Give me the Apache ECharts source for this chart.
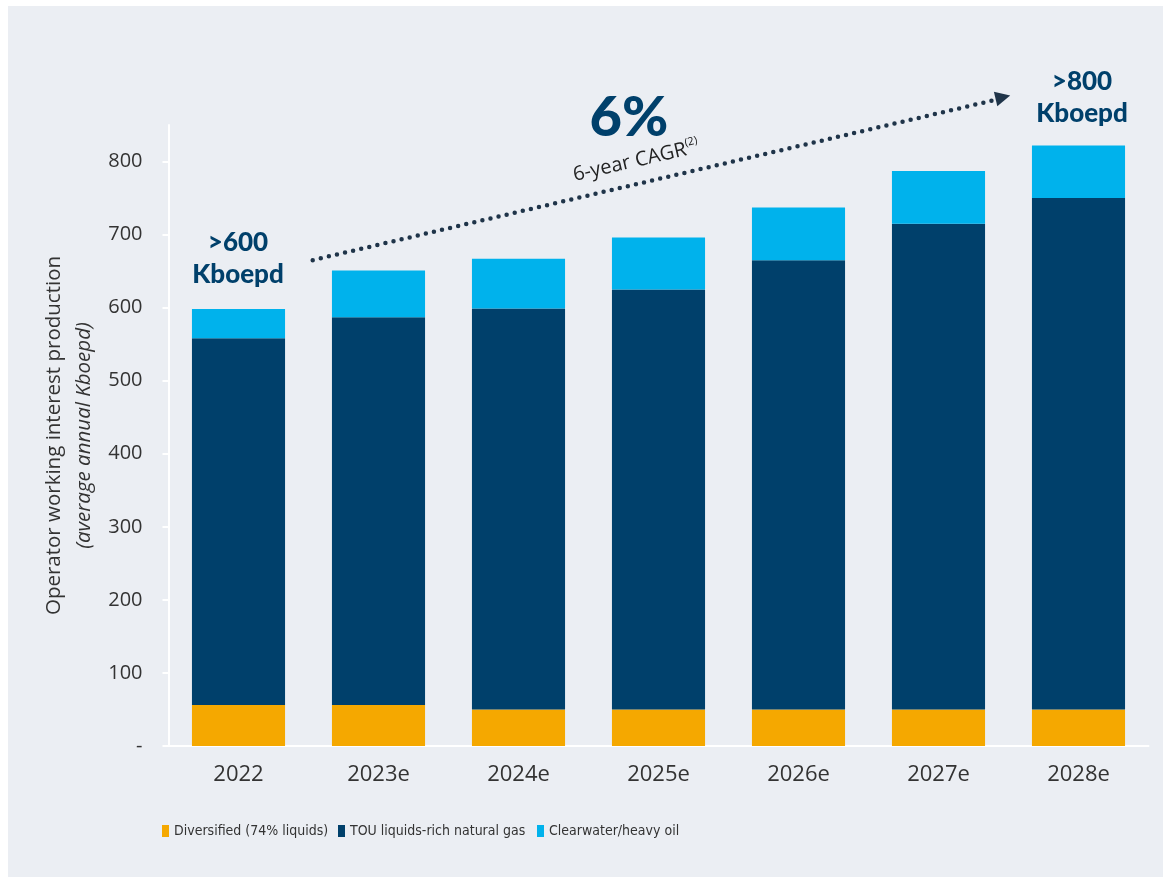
<!DOCTYPE html>
<html>
<head>
<meta charset="utf-8">
<script src="https://cdn.jsdelivr.net/npm/echarts@6/dist/echarts.min.js"></script>
<style>
html,body{margin:0;padding:0;background:#ffffff;width:1163px;height:877px;overflow:hidden;}
#main{position:absolute;left:8px;top:6px;width:1155px;height:871px;}
</style>
</head>
<body>
<div id="main"></div>
<script>
// ---- data ----
const categories = ['2022', '2023e', '2024e', '2025e', '2026e', '2027e', '2028e'];
const seriesNames = ['Diversified (74% liquids)', 'TOU liquids-rich natural gas', 'Clearwater/heavy oil'];
const diversified = [56, 56, 50, 50, 50, 50, 50];
const touGas = [502, 531, 549, 575, 615, 665, 700];
const clearwater = [40, 64, 68, 71, 72, 72, 72];
const yTicks = [0, 100, 200, 300, 400, 500, 600, 700, 800];
// growth arrow, in (category-units, Kboepd) space
const arrowStart = [1.03, 665];
const arrowEnd = [5.92, 885];
const arrowTip = [5.96, 888];

const navy = '#00406B';
const arrowColor = '#1F3449';
const chart = echarts.init(document.getElementById('main'));
const baseFont = '"Open Sans", Lato, sans-serif';
const legendFont = '"DejaVu Sans Condensed", "Liberation Sans Narrow", Lato, sans-serif';

function legendAt(left, name) {
  return {
    left: left, top: 818, padding: 0,
    icon: 'rect', itemWidth: 7, itemHeight: 12,
    textStyle: { fontFamily: legendFont, fontSize: 14, color: '#333' },
    data: [name]
  };
}

const option = {
  backgroundColor: '#EBEEF3',
  animation: false,
  grid: { left: 160.5, right: 14.5, top: 119, bottom: 131 },
  legend: [legendAt(154, seriesNames[0]), legendAt(330, seriesNames[1]), legendAt(529, seriesNames[2])],
  xAxis: [{
    type: 'category', data: categories,
    axisLine: { show: true, lineStyle: { color: '#ffffff', width: 2 } },
    axisTick: { show: false },
    axisLabel: { fontFamily: baseFont, fontSize: 22, color: '#333', margin: 18 }
  }, {
    type: 'value', min: 0, max: 7, show: false
  }],
  yAxis: [{
    type: 'value', min: 0, max: 850,
    axisLine: { show: true, lineStyle: { color: '#ffffff', width: 2 } },
    axisTick: { show: true, length: 6, lineStyle: { color: '#ffffff', width: 2 }, customValues: yTicks },
    axisLabel: { fontFamily: baseFont, fontSize: 20, color: '#333', margin: 26, customValues: yTicks,
      formatter: v => v === 0 ? '-' : String(v) },
    splitLine: { show: false },
    name: '{a|Operator working interest production}\n{b|(average annual Kboepd)}',
    nameLocation: 'middle', nameRotate: 90, nameGap: 69,
    nameTextStyle: {
      rich: {
        a: { fontFamily: baseFont, fontSize: 20.5, color: '#333', lineHeight: 30 },
        b: { fontFamily: baseFont, fontSize: 20.5, fontStyle: 'italic', color: '#333', lineHeight: 30 }
      }
    }
  }],
  series: [
    { name: seriesNames[0], type: 'bar', stack: 'p', data: diversified, barWidth: '66.5%', itemStyle: { color: '#F5A800' } },
    { name: seriesNames[1], type: 'bar', stack: 'p', data: touGas, itemStyle: { color: navy } },
    { name: seriesNames[2], type: 'bar', stack: 'p', data: clearwater, itemStyle: { color: '#00B2EC' } },
    {
      id: 'arrowLine', type: 'line', xAxisIndex: 1, yAxisIndex: 0, data: [arrowStart, arrowEnd],
      clip: false, silent: true, showSymbol: false, symbol: 'none',
      lineStyle: { color: arrowColor, width: 4.5, type: [0, 8.3], cap: 'round', opacity: 1 }
    },
    {
      id: 'arrowHead', type: 'scatter', xAxisIndex: 1, yAxisIndex: 0, data: [arrowTip],
      clip: false, silent: true, symbol: 'triangle', symbolSize: [15, 15], symbolRotate: -76,
      itemStyle: { color: arrowColor, opacity: 1 }
    }
  ],
  graphic: [
    { type: 'text', x: 230, y: 253, style: { text: '>600\nKboepd', align: 'center', verticalAlign: 'middle',
        font: '900 26px Lato, sans-serif', fill: navy, lineHeight: 32 } },
    { type: 'text', x: 1074, y: 92, style: { text: '>800\nKboepd', align: 'center', verticalAlign: 'middle',
        font: '900 26px Lato, sans-serif', fill: navy, lineHeight: 32 } },
    { type: 'text', x: 621, y: 112, style: { text: '6%', align: 'center', verticalAlign: 'middle',
        font: '900 56px Lato, sans-serif', fill: navy } },
    { type: 'text', x: 628, y: 155, rotation: 13 * Math.PI / 180, style: {
        text: '{a|6-year CAGR}{s|(2)}', align: 'center', verticalAlign: 'middle',
        rich: {
          a: { fontFamily: baseFont, fontSize: 20, fill: '#222', lineHeight: 24 },
          s: { fontFamily: baseFont, fontSize: 11, fill: '#222', lineHeight: 24, verticalAlign: 'top', padding: [0, 0, 10, 0] }
        } } }
  ]
};
chart.setOption(option);

// orient the arrowhead along the dotted line, measured in pixel space
const p0 = chart.convertToPixel({ xAxisIndex: 1, yAxisIndex: 0 }, arrowStart);
const p1 = chart.convertToPixel({ xAxisIndex: 1, yAxisIndex: 0 }, arrowTip);
if (p0 && p1) {
  const ang = Math.atan2(p0[1] - p1[1], p1[0] - p0[0]) * 180 / Math.PI;
  chart.setOption({ series: [{ id: 'arrowHead', symbolRotate: ang - 90 }] });
}
</script>
</body>
</html>
